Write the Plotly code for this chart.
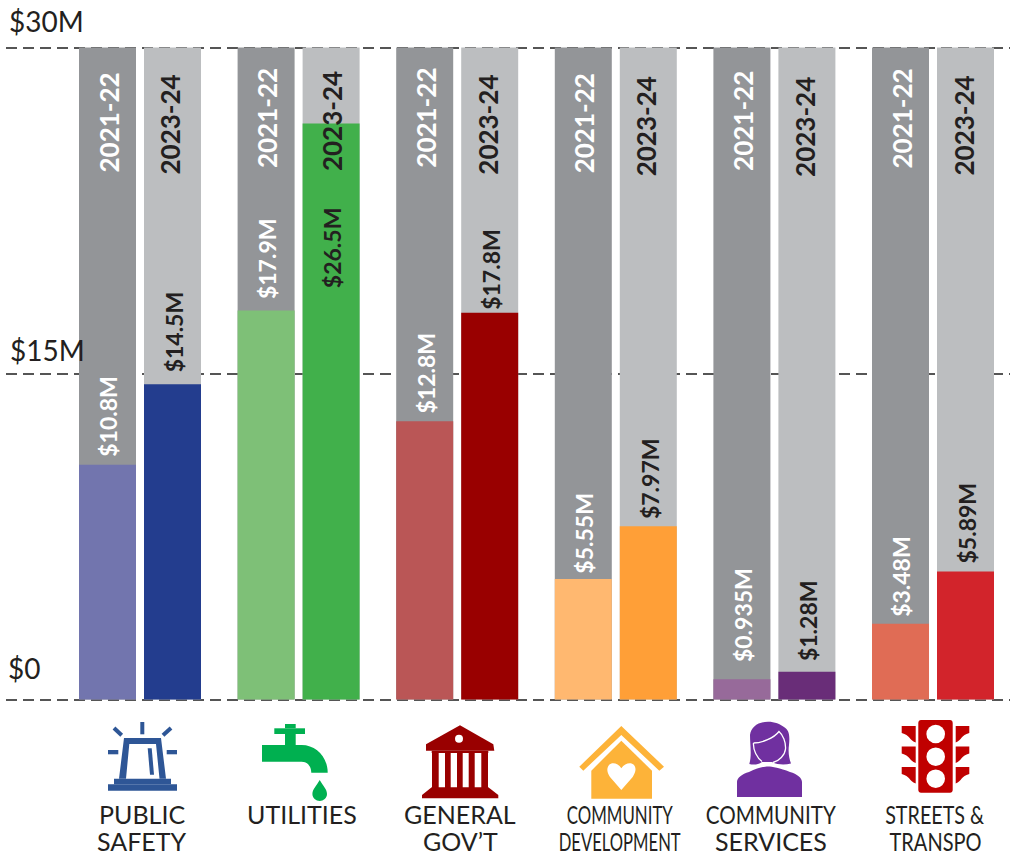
import plotly.graph_objects as go

categories = ["Public Safety", "Utilities", "General Gov't", "Community Development", "Community Services", "Streets & Transpo"]
years = ["2021-22", "2023-24"]
values_2021 = [10.8, 17.9, 12.8, 5.55, 0.935, 3.48]
values_2023 = [14.5, 26.5, 17.8, 7.97, 1.28, 5.89]
labels_2021 = ["$10.8M", "$17.9M", "$12.8M", "$5.55M", "$0.935M", "$3.48M"]
labels_2023 = ["$14.5M", "$26.5M", "$17.8M", "$7.97M", "$1.28M", "$5.89M"]
scale_max = [30] * 6
y_ticks = [0, 15, 30]
y_tick_labels = ["$0", "$15M", "$30M"]
colors_2021 = ["#7275AE", "#7EC077", "#BA5656", "#FFB870", "#976A9A", "#E06C55"]
colors_2023 = ["#233D8E", "#41B04B", "#990000", "#FF9F37", "#692D78", "#D2242B"]
name_lines = [["PUBLIC", "SAFETY"], ["UTILITIES"], ["GENERAL", "GOV\u2019T"],
              ["COMMUNITY", "DEVELOPMENT"], ["COMMUNITY", "SERVICES"], ["STREETS &", "TRANSPO"]]

W, H = 1012, 865
GROUP0, STEP = 140.0, 158.6
OFF, BW = 32.5 / STEP, 57 / STEP
xs = list(range(6))
x21 = [i - OFF for i in xs]
x23 = [i + OFF for i in xs]
INK = "#231F20"
FONT = "Lato"

fig = go.Figure()
fig.add_bar(x=x21, y=scale_max, width=BW, marker=dict(color="#939598", line_width=0), name="scale 2021-22", hoverinfo="skip")
fig.add_bar(x=x23, y=scale_max, width=BW, marker=dict(color="#BCBEC0", line_width=0), name="scale 2023-24", hoverinfo="skip")
fig.add_bar(x=x21, y=values_2021, width=BW, marker=dict(color=colors_2021, line_width=0), name=years[0], customdata=categories)
fig.add_bar(x=x23, y=values_2023, width=BW, marker=dict(color=colors_2023, line_width=0), name=years[1], customdata=categories)
fig.add_scatter(x=[0, W], y=[0, H], xaxis="x2", yaxis="y2", mode="markers", marker=dict(opacity=0), hoverinfo="skip", showlegend=False)

ann = []
# axis labels
tick_px = {0: (6, 668), 15: (8, 350), 30: (7, 21)}
for v, t in zip(y_ticks, y_tick_labels):
    px, py = tick_px[v]
    ann.append(dict(text=t, x=px, y=py, xref="x2", yref="y2", xanchor="left", yanchor="middle", showarrow=False,
                    font=dict(family=FONT, size=28, color=INK, weight=400)))

# year labels
year_mid_21 = [123, 118, 118, 123, 121, 119]
year_mid_23 = [125, 121, 125, 126, 127, 126]
for i in xs:
    ann.append(dict(text=years[0], x=x21[i], xshift=1, y=year_mid_21[i], xref="x", yref="y2", textangle=-90, showarrow=False,
                    font=dict(family=FONT, size=26, color="white", weight=700)))
    ann.append(dict(text=years[1], x=x23[i], xshift=-3 if i == 0 else (1 if i == 1 else -2), y=year_mid_23[i], xref="x", yref="y2", textangle=-90, showarrow=False,
                    font=dict(family=FONT, size=26, color=INK, weight=700)))

# value labels: gap above each bar in px
gap_21 = [6, 9, 6, 3, 15, 5]
gap_23 = [10, -167, 1, 5, 9, 6]
for i in xs:
    ann.append(dict(text=labels_2021[i], x=x21[i], xshift=1, y=values_2021[i], yshift=gap_21[i], yanchor="bottom", textangle=-90, showarrow=False,
                    font=dict(family=FONT, size=23, color="white", weight=700)))
    ann.append(dict(text=labels_2023[i], x=x23[i], xshift=1, y=values_2023[i], yshift=gap_23[i], yanchor="bottom", textangle=-90, showarrow=False,
                    font=dict(family=FONT, size=23, color=INK, weight=700)))

# category names
name_x = [142, 302, 460, 620, 771, 935]
for i, lines in enumerate(name_lines):
    for j, line in enumerate(lines):
        ann.append(dict(text=line, x=name_x[i], y=814 + 27 * j, xref="x2", yref="y2", showarrow=False,
                        font=dict(family=FONT, size=25, color=INK, weight=400)))

shapes = []
def P(path, color):
    shapes.append(dict(type="path", path=path, xref="x2", yref="y2", fillcolor=color, line_width=0, layer="above"))
def R(x0, y0, x1, y1, color):
    P(f"M{x0} {y0}L{x1} {y0}L{x1} {y1}L{x0} {y1}Z", color)
def C(cx, cy, r, color):
    shapes.append(dict(type="circle", x0=cx - r, x1=cx + r, y0=cy - r, y1=cy + r, xref="x2", yref="y2", fillcolor=color, line_width=0, layer="above"))
def L(path, color, w):
    shapes.append(dict(type="path", path=path, xref="x2", yref="y2", line=dict(color=color, width=w), layer="above"))

# siren
B = "#2E5696"
R(108, 784.3, 177, 790.7, B); R(114, 778.7, 171, 784.3, B)
P("M124 738L161 738L166 778.7L159.5 778.7L156 744L129.3 744L126 778.7L119 778.7Z", B)
P("M147.7 748.3L151.7 748.3L154 774.7L150 774.7Z", B)
R(140.3, 722, 144.3, 734.3, B); R(108, 750, 118.3, 754.3, B); R(166.7, 750, 177, 754.3, B)
L("M114 728L121.7 735.3", B, 4); L("M171 728L163 735.3", B, 4)
# faucet
G = "#00B050"
R(274.3, 728.3, 305, 734, G); R(285, 724, 295.7, 728.3, G); R(285, 734, 295.7, 745, G)
P("M262 745L301.7 745C316 745 327.7 757 327.7 772.7L311.3 772.7C311.3 766 307 761.7 301.7 761.7L262 761.7Z", G)
P("M319.7 780C316.5 786 312.4 789 312.4 794C312.4 798 316 801 319.7 801C323.4 801 327 798 327 794C327 789 323 786 319.7 780Z", G)
# building
D = "#990000"
P("M460 725.3L493.3 744.3L494.3 750.7L426 750.7L426 744.3Z", D)
C(459, 738.7, 4, "white")
R(431.7, 750.7, 488.3, 753, D)
for a, b in [(432, 438.7), (445, 450.7), (457, 462.7), (468.7, 474.7), (481.3, 488)]:
    R(a, 752, b, 788, D)
P("M431.7 787.3L488.3 787.3L498.3 795L498.3 798.3L422 798.3L422 795Z", D)
# house
O = "#FDB339"
P("M621.3 726L664 766.7L659.3 770.7L621.3 735L583.3 770.7L579.3 766.7Z", O)
P("M621.3 740.7L652 770.7L652 798.7L591.3 798.7L591.3 770.7Z", O)
P("M621.3 768.3C618 763 612 762 609 765C606 769 607.5 773 610 777L621.3 790L632.7 777C635 773 637 769 634 765C631 762 625 763 621.3 768.3Z", "white")
# person
V = "#7030A0"
P("M749.3 764C752 755 750 745 750 735C751 727 758 721.7 768 721.7C775 721.7 780 724 784 727C789 730 790 735 789 745C788 752 789 758 791 763.5C785 765 778 765 772 762L762 762C758 765 753 765 749.3 764Z", V)
P("M737 797L802 797L802 782C802 778 797 774 790 772C780 768 772 766.5 768 766.5C764 766.5 757 768 749 772C742 774 737 778 737 782Z", V)
L("M753.5 743C762 743 774 738 779 731.5C783 735 786 742 785.5 749C785 755 779 761 773 762.5M753.5 743C753 750 757 758 762 761.5", "white", 1.3)
# traffic light
T = "#C00000"
P("M921 720L950 720C951.5 720 952.7 721.2 952.7 723L952.7 790C952.7 791.5 951.5 792.7 950 792.7L921 792.7C919.5 792.7 918.3 791.5 918.3 790L918.3 723C918.3 721.2 919.5 720 921 720Z", T)
for cy in (734, 756.7, 778.7):
    C(935.7, cy, 9.3, "white")
for dy in (0, 20.5, 41):
    y = 726 + dy
    P(f"M901.7 {y}L915.7 {y}L915.7 {y+16.5}C909 {y+14} 910 {y+9} 901.7 {y+7}Z", T)
    P(f"M969.3 {y}L955.7 {y}L955.7 {y+16.5}C962 {y+14} 961 {y+9} 969.3 {y+7}Z", T)

PAD = 3 / (652 / 30)
fig.update_layout(
    width=W, height=H, autosize=False, margin=dict(l=0, r=0, t=0, b=0),
    barmode="overlay", showlegend=False, plot_bgcolor="rgba(0,0,0,0)", paper_bgcolor="white",
    annotations=ann, shapes=shapes,
    xaxis=dict(domain=[6 / W, 1010 / W], range=[(6 - GROUP0) / STEP, (1010 - GROUP0) / STEP], visible=False, fixedrange=True, anchor="y"),
    yaxis=dict(domain=[(H - 702.5) / H, (H - 44.5) / H], range=[-PAD, 30 + PAD], tickvals=y_ticks, showticklabels=False, ticks="",
               showgrid=True, gridcolor="#555555", gridwidth=2, griddash="11px,6px", zeroline=False, showline=False, fixedrange=True, anchor="x"),
    xaxis2=dict(domain=[0, 1], range=[0, W], visible=False, fixedrange=True, anchor="y2"),
    yaxis2=dict(domain=[0, 1], range=[H, 0], visible=False, fixedrange=True, anchor="x2"),
)

# the narrow lettering of three labels: squeeze the real text to the reference width
squeeze = """
var targets = {'COMMUNITY':[106,130], 'DEVELOPMENT':[122], 'STREETS &':[99], 'TRANSPO':[92]};
function squeezeLabels(){
  var seen = {};
  document.querySelectorAll('.annotation-text').forEach(function(t){
    var s = t.textContent; var w = targets[s];
    if(!w) return;
    seen[s] = (seen[s]||0);
    var v = w[Math.min(seen[s], w.length-1)]; seen[s]++;
    t.setAttribute('textLength', v); t.setAttribute('lengthAdjust','spacingAndGlyphs');
  });
}
squeezeLabels(); setTimeout(squeezeLabels, 0); setTimeout(squeezeLabels, 200);
document.body.style.margin='0';
"""
fig.write_html("out.html", post_script=squeeze, config=dict(displayModeBar=False))
